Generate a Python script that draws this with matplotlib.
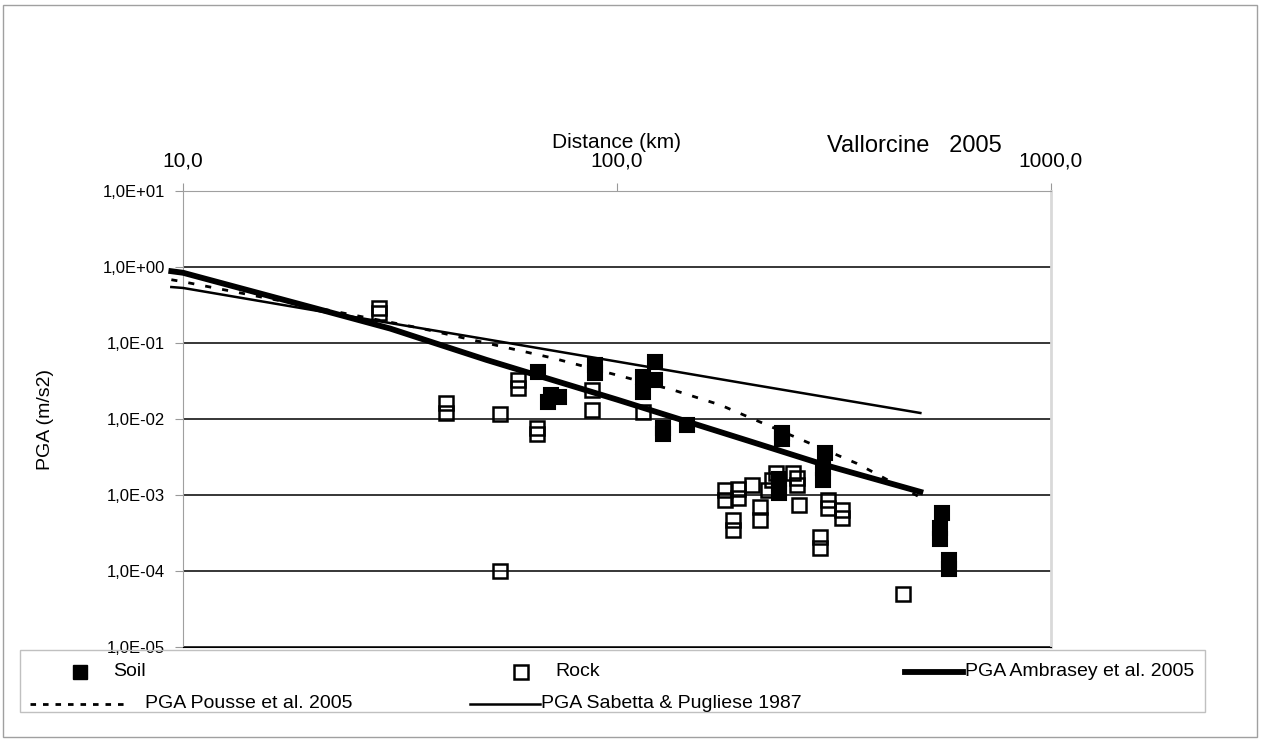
import matplotlib.pyplot as plt
from matplotlib.patches import Rectangle

plt.rcParams['font.family'] = ['Liberation Sans', 'DejaVu Sans']

# observed PGA, soil stations (distance km, PGA m/s2)
soil_dist = [65.8, 69.5, 70.5, 73.5, 89, 89, 122.5, 114.8, 122.5, 114.8, 127.6, 127.6, 145,
             240, 240, 302, 298, 298, 236, 236, 236, 561, 555, 555, 582, 582]
soil_pga = [0.0417, 0.0165, 0.021, 0.0195, 0.052, 0.040, 0.056, 0.0357, 0.0326, 0.0227, 0.0075, 0.0063, 0.0083,
            0.0065, 0.0055, 0.00357, 0.00226, 0.00158, 0.0016, 0.0012, 0.00105, 0.00058, 0.00037, 0.00026, 0.00014, 0.000105]

# observed PGA, rock stations
rock_dist = [28.3, 28.3, 40.4, 40.4, 53.7, 53.7, 59.2, 59.2, 65.5, 65.5, 87.5, 87.5, 115,
             177, 177, 190, 190, 205, 214, 214, 185, 185, 227, 232, 254, 260, 260, 223,
             262, 306, 306, 330, 330, 294, 294, 456]
rock_pga = [0.29, 0.25, 0.0162, 0.012, 0.0118, 0.0001, 0.0326, 0.0256, 0.0076, 0.0064, 0.024, 0.013, 0.0124,
            0.00117, 0.00086, 0.0012, 0.0009, 0.00134, 0.00069, 0.00047, 0.00047, 0.00035, 0.00158, 0.00195,
            0.00195, 0.00167, 0.00135, 0.00117, 0.00074, 0.00086, 0.00068, 0.00063, 0.00050, 0.00028, 0.0002, 5.0e-5]

# attenuation laws
amb_dist = [9.4, 10, 20, 30, 50, 100, 200, 300, 500]
amb_pga = [0.88, 0.84, 0.29, 0.155, 0.06, 0.018, 0.0052, 0.0025, 0.0011]
pou_dist = [9.4, 10, 35, 71, 135, 173, 357, 500]
pou_pga = [0.68, 0.64, 0.158, 0.0635, 0.024, 0.0153, 0.0026, 0.00093]
sab_dist = [9.4, 10, 20, 50, 100, 200, 500]
sab_pga = [0.545, 0.53, 0.27, 0.112, 0.057, 0.029, 0.012]

series_names = ['Soil', 'Rock', 'PGA Ambrasey et al. 2005',
                'PGA Pousse et al. 2005', 'PGA Sabetta & Pugliese 1987']

x_ticks = [10, 100, 1000]
x_labels = ['10,0', '100,0', '1000,0']
y_ticks = [1e-5, 1e-4, 1e-3, 1e-2, 1e-1, 1e0, 1e1]
y_labels = ['1,0E-05', '1,0E-04', '1,0E-03', '1,0E-02', '1,0E-01', '1,0E+00', '1,0E+01']

W, H = 1261, 740
fig = plt.figure(figsize=(W / 100, H / 100), dpi=100)
ax = fig.add_axes([183 / W, 1 - 647 / H, 868 / W, 456 / H])
ax.set_xscale('log')
ax.set_yscale('log')
ax.set_xlim(10, 1000)
ax.set_ylim(1e-5, 10)

ax.plot(amb_dist, amb_pga, color='black', lw=4.2, clip_on=False, zorder=3)
ax.plot(pou_dist, pou_pga, color='black', lw=2, dashes=(2.2, 4), clip_on=False, zorder=3)
ax.plot(sab_dist, sab_pga, color='black', lw=1.8, clip_on=False, zorder=3)
ax.plot(soil_dist, soil_pga, 's', ms=10, mfc='black', mec='black', mew=1.5, ls='none', zorder=4)
ax.plot(rock_dist, rock_pga, 's', ms=10, mfc='none', mec='black', mew=1.8, ls='none', zorder=5)

ax.set_yticks(y_ticks)
ax.set_yticklabels(y_labels, fontsize=12)
ax.xaxis.tick_top()
ax.set_xticks(x_ticks)
ax.set_xticklabels(x_labels, fontsize=15)
ax.minorticks_off()
ax.tick_params(axis='x', direction='out', length=6, color='#999999', pad=9)
ax.tick_params(axis='y', direction='out', length=6, color='#999999', pad=7)
ax.yaxis.grid(True, color='black', lw=1.1)
ax.xaxis.grid(False)

for side in ['top', 'left']:
    ax.spines[side].set_color('#a0a0a0')
ax.spines['right'].set_color('#d9d9d9')
ax.spines['right'].set_linewidth(2)
ax.spines['bottom'].set_color('black')

# overlay in pixel units for frame, titles and legend
ov = fig.add_axes([0, 0, 1, 1])
ov.set_xlim(0, W)
ov.set_ylim(H, 0)
ov.axis('off')
ov.patch.set_visible(False)

ov.add_patch(Rectangle((3, 5), 1254, 732, fill=False, ec='#a0a0a0', lw=1))
ov.text(617, 148, 'Distance (km)', fontsize=15, ha='center', va='baseline')
ov.text(827, 152, 'Vallorcine   2005', fontsize=17, ha='left', va='baseline')
ov.text(45, 420, 'PGA (m/s2)', fontsize=14, rotation=90, ha='center', va='center')

# legend
ov.add_patch(Rectangle((20, 650), 1185, 62, fill=False, ec='#c0c0c0', lw=1))
r1, r2 = 672, 704
ov.plot([80], [r1], 's', ms=10, mfc='black', mec='black')
ov.text(113, r1, series_names[0], fontsize=14, va='center')
ov.plot([521], [r1], 's', ms=10, mfc='none', mec='black', mew=1.8)
ov.text(555, r1, series_names[1], fontsize=14, va='center')
ov.plot([905, 963], [r1, r1], color='black', lw=4.2)
ov.text(965, r1, series_names[2], fontsize=14, va='center')
ov.plot([30, 125], [r2, r2], color='black', lw=2, dashes=(2, 2.5))
ov.text(145, r2, series_names[3], fontsize=14, va='center')
ov.plot([470, 540], [r2, r2], color='black', lw=1.8)
ov.text(541, r2, series_names[4], fontsize=14, va='center')

fig.savefig('out.png', dpi=100)
